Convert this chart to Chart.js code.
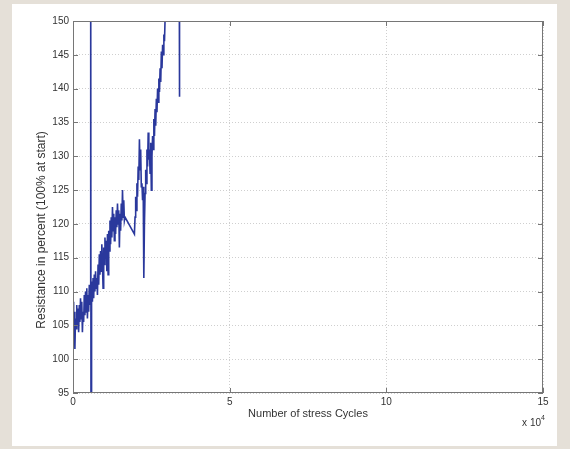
<!DOCTYPE html>
<html lang="en">
<head>
<meta charset="UTF-8">
<title>Resistance vs stress cycles</title>
<script src="https://cdn.jsdelivr.net/npm/chart.js"></script>
<style>
    html, body { margin: 0; padding: 0; }
    body {
        width: 570px;
        height: 449px;
        background: #e5e0d8;
        position: relative;
        overflow: hidden;
    }
    .panel {
        position: absolute;
        left: 12px; top: 4px;
        width: 545px; height: 442px;
        background: #fff;
    }
    .chart-box {
        position: absolute;
        left: 0; top: 0;
        width: 570px; height: 449px;
    }
</style>
</head>
<body>
<div class="panel"></div>
<div class="chart-box"><canvas id="resChart"></canvas></div>

<script>
// cycles in units of 10^4, resistance in % of start value
const cycles = [
    0.00, 0.02, 0.04, 0.06, 0.08, 0.10, 0.12, 0.14, 0.16, 0.18,
    0.20, 0.22, 0.24, 0.26, 0.28, 0.30, 0.32, 0.34, 0.36, 0.38,
    0.40, 0.42, 0.44, 0.46, 0.48, 0.50, 0.52, 0.54, 0.56, 0.565,
    0.575, 0.585, 0.60, 0.62, 0.64, 0.66, 0.68, 0.70, 0.72, 0.74,
    0.76, 0.78, 0.80, 0.82, 0.84, 0.86, 0.88, 0.90, 0.92, 0.94,
    0.96, 0.98, 1.00, 1.02, 1.04, 1.06, 1.08, 1.10, 1.12, 1.14,
    1.16, 1.18, 1.20, 1.22, 1.24, 1.26, 1.28, 1.30, 1.32, 1.34,
    1.36, 1.38, 1.40, 1.42, 1.44, 1.46, 1.48, 1.50, 1.52, 1.54,
    1.56, 1.58, 1.60, 1.62, 1.64, 1.66, 1.96, 1.98, 2.00, 2.02,
    2.04, 2.06, 2.08, 2.10, 2.12, 2.14, 2.16, 2.18, 2.20, 2.22,
    2.24, 2.26, 2.28, 2.30, 2.32, 2.34, 2.36, 2.38, 2.40, 2.42,
    2.44, 2.46, 2.48, 2.50, 2.52, 2.54, 2.56, 2.58, 2.60, 2.62,
    2.64, 2.66, 2.68, 2.70, 2.72, 2.74, 2.76, 2.78, 2.80, 2.82,
    2.84, 2.86, 2.88, 2.90, 2.92, 2.94, 2.96, 3.00, 3.39, 3.40
];
const resistance = [
    108.5, 104.0, 107.0, 101.5, 106.0, 104.5, 108.0, 105.0, 107.5, 104.0,
    108.0, 105.5, 109.0, 106.0, 108.5, 104.0, 107.0, 105.5, 109.5, 106.5,
    110.0, 107.0, 110.5, 106.0, 109.5, 107.0, 111.0, 108.0, 110.0, 165.0,
    80.0, 108.0, 111.5, 108.5, 112.0, 109.0, 112.5, 110.0, 113.0, 110.5,
    112.0, 109.5, 114.0, 111.0, 115.5, 112.5, 116.0, 113.0, 117.0, 114.0,
    110.5, 116.5, 114.0, 118.0, 115.0, 117.5, 113.0, 118.5, 112.5, 119.0,
    116.0, 120.5, 117.0, 121.0, 118.0, 122.5, 119.0, 121.5, 117.5, 121.0,
    118.5, 122.0, 119.5, 123.0, 120.0, 122.0, 116.5, 121.5, 119.0, 123.0,
    120.5, 125.0, 121.0, 123.5, 120.5, 121.0, 118.5, 121.0, 124.0, 122.0,
    126.0, 124.0, 128.5, 126.5, 132.5, 128.0, 131.0, 125.5, 126.0, 123.5,
    125.5, 112.0, 120.0, 124.5, 128.0, 126.0, 131.0, 128.5, 133.5, 129.5,
    131.0, 127.5, 132.0, 125.0, 130.0, 133.0, 131.0, 135.5, 133.0, 137.0,
    134.5, 138.5, 136.5, 140.0, 138.0, 141.5, 139.5, 143.0, 141.0, 145.5,
    143.0, 146.5, 145.0, 148.0, 147.0, 150.5, 153.0, 160.0, 160.0, 138.8
];
const xTicks = [0, 5, 10, 15];
const yTicks = [95, 100, 105, 110, 115, 120, 125, 130, 135, 140, 145, 150];
const yTitle = 'Resistance in percent (100% at start)';
const xTitle = 'Number of stress Cycles';

const labelFont = { family: '"Liberation Sans", Arial, sans-serif', size: 10 };
const textColor = '#333';

// box around the axes, inward tick marks, rotated y title and the x 10^4 factor
const framePlugin = {
    id: 'frame',
    afterDraw(chart) {
        const { ctx, chartArea: a, scales: { x, y } } = chart;
        ctx.save();
        ctx.strokeStyle = '#767676';
        ctx.lineWidth = 1;
        ctx.strokeRect(a.left + 0.5, a.top + 0.5, a.right - a.left - 1, a.bottom - a.top - 1);
        ctx.beginPath();
        xTicks.forEach(v => {
            const px = Math.round(x.getPixelForValue(v)) + 0.5;
            ctx.moveTo(px, a.bottom); ctx.lineTo(px, a.bottom - 5);
            ctx.moveTo(px, a.top); ctx.lineTo(px, a.top + 5);
        });
        yTicks.forEach(v => {
            const py = Math.round(y.getPixelForValue(v)) + 0.5;
            ctx.moveTo(a.left, py); ctx.lineTo(a.left + 5, py);
            ctx.moveTo(a.right, py); ctx.lineTo(a.right - 5, py);
        });
        ctx.stroke();

        ctx.fillStyle = textColor;
        ctx.font = '12px "Liberation Sans", Arial, sans-serif';
        ctx.textAlign = 'center';
        ctx.textBaseline = 'middle';
        ctx.save();
        ctx.translate(42, 230);
        ctx.rotate(-Math.PI / 2);
        ctx.fillText(yTitle, 0, 0);
        ctx.restore();

        ctx.textAlign = 'right';
        ctx.font = '10px "Liberation Sans", Arial, sans-serif';
        ctx.fillText('x 10', a.right - 2, 423);
        ctx.textAlign = 'left';
        ctx.font = '7px "Liberation Sans", Arial, sans-serif';
        ctx.fillText('4', a.right - 2, 418);
        ctx.restore();
    }
};

new Chart(document.getElementById('resChart'), {
    type: 'scatter',
    data: {
        datasets: [{
            data: cycles.map((c, i) => ({ x: c, y: resistance[i] })),
            showLine: true,
            borderColor: '#2a389c',
            borderWidth: 1.6,
            pointRadius: 0,
            tension: 0
        }]
    },
    options: {
        responsive: true,
        maintainAspectRatio: false,
        animation: false,
        layout: { padding: { left: 33, right: 27, top: 21, bottom: 24 } },
        plugins: {
            legend: { display: false },
            tooltip: { enabled: false }
        },
        scales: {
            x: {
                type: 'linear',
                min: 0,
                max: 15,
                afterFit: s => { s.height = 32; },
                afterBuildTicks: s => { s.ticks = xTicks.map(v => ({ value: v })); },
                ticks: { font: labelFont, color: textColor, padding: 3, maxRotation: 0 },
                grid: { color: '#cfcfcf', drawTicks: false },
                border: { display: false, dash: [1, 2] },
                title: {
                    display: true,
                    text: xTitle,
                    color: textColor,
                    font: { family: labelFont.family, size: 11 },
                    padding: { top: 2, bottom: 4 }
                }
            },
            y: {
                min: 95,
                max: 150,
                afterFit: s => { s.width = 40; },
                afterBuildTicks: s => { s.ticks = yTicks.map(v => ({ value: v })); },
                ticks: { font: labelFont, color: textColor, padding: 4 },
                grid: { color: '#cfcfcf', drawTicks: false },
                border: { display: false, dash: [1, 2] }
            }
        }
    },
    plugins: [framePlugin]
});
</script>
</body>
</html>
